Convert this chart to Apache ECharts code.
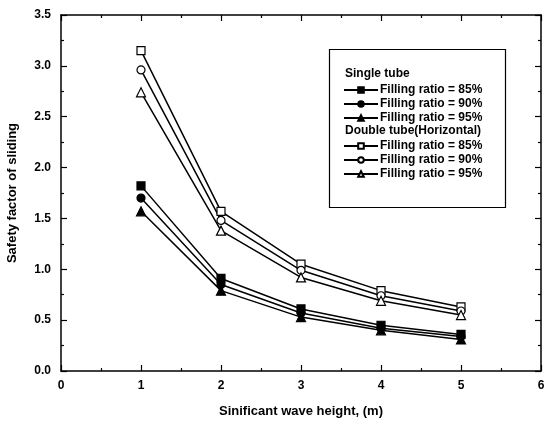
<!DOCTYPE html>
<html>
<head>
<meta charset="utf-8">
<script src="https://cdn.jsdelivr.net/npm/echarts@6/dist/echarts.min.js"></script>
<style>
  html, body { margin: 0; padding: 0; background: #fff; }
  #chart { width: 545px; height: 425px; }
</style>
</head>
<body>
<div id="chart"></div>
<script>
// Significant wave height (m)
const waveHeight = [1, 2, 3, 4, 5];

// Safety factor of sliding, single tube
const single85 = [1.82, 0.91, 0.61, 0.45, 0.36];
const single90 = [1.70, 0.85, 0.57, 0.42, 0.34];
const single95 = [1.57, 0.79, 0.53, 0.40, 0.31];

// Safety factor of sliding, double tube (horizontal)
const double85 = [3.15, 1.57, 1.05, 0.79, 0.63];
const double90 = [2.96, 1.48, 0.99, 0.74, 0.59];
const double95 = [2.74, 1.38, 0.92, 0.69, 0.55];

const legendLabels = ['Filling ratio = 85%', 'Filling ratio = 90%', 'Filling ratio = 95%'];

const FONT = '"Liberation Sans", Arial, sans-serif';

function pairs(ys) { return ys.map((y, i) => [waveHeight[i], y]); }

function makeSeries(name, ys, symbol, filled, size) {
  return {
    name: name,
    type: 'line',
    data: pairs(ys),
    symbol: symbol,
    symbolSize: size,
    lineStyle: { color: '#000', width: 1.5 },
    itemStyle: { color: filled ? '#000' : '#fff', borderColor: '#000', borderWidth: 1.2 },
    emphasis: { disabled: true },
    animation: false,
    z: 3
  };
}

// trailing spaces keep the two legend groups' names distinct
const singleNames = legendLabels.map(t => t + ' ');
const doubleNames = legendLabels.map(t => t + '  ');

const series = [
  makeSeries(singleNames[0], single85, 'rect', true, 8),
  makeSeries(singleNames[1], single90, 'circle', true, 8),
  makeSeries(singleNames[2], single95, 'triangle', true, 9),
  makeSeries(doubleNames[0], double85, 'rect', false, 8),
  makeSeries(doubleNames[1], double90, 'circle', false, 8),
  makeSeries(doubleNames[2], double95, 'triangle', false, 9)
];

const axisLine = { show: true, onZero: false, lineStyle: { color: '#000', width: 1.5 } };
const tickStyle = { color: '#000', width: 1.2 };

const legendBase = {
  orient: 'vertical',
  left: 343,
  itemWidth: 34,
  itemHeight: 7,
  itemGap: 2,
  textStyle: { fontFamily: FONT, fontWeight: 'bold', fontSize: 12, color: '#000', padding: [0, 0, 0, -3] },
  selectedMode: false,
  padding: 0
};

const chart = echarts.init(document.getElementById('chart'), null, { renderer: 'canvas' });
chart.setOption({
  backgroundColor: '#fff',
  animation: false,
  grid: { left: 61, right: 4, top: 15, bottom: 54, outerBoundsMode: 'none' },
  xAxis: [
    {
      type: 'value', min: 0, max: 6, interval: 1,
      axisLine: axisLine,
      axisTick: { inside: true, length: 6, lineStyle: tickStyle },
      minorTick: { show: true, splitNumber: 2, length: 3, lineStyle: tickStyle },
      splitLine: { show: false },
      axisLabel: { color: '#000', fontFamily: FONT, fontWeight: 'bold', fontSize: 12, margin: 9 },
      name: 'Sinificant wave height, (m)',
      nameLocation: 'middle',
      nameGap: 34,
      nameTextStyle: { color: '#000', fontFamily: FONT, fontWeight: 'bold', fontSize: 13 }
    },
    {
      type: 'value', min: 0, max: 6, interval: 1, position: 'top',
      axisLine: axisLine,
      axisTick: { inside: true, length: 6, lineStyle: tickStyle },
      minorTick: { show: true, splitNumber: 2, length: 3, lineStyle: tickStyle },
      splitLine: { show: false },
      axisLabel: { show: false }
    }
  ],
  yAxis: [
    {
      type: 'value', min: 0, max: 3.5, interval: 0.5,
      axisLine: axisLine,
      axisTick: { inside: true, length: 6, lineStyle: tickStyle },
      minorTick: { show: true, splitNumber: 2, length: 3, lineStyle: tickStyle },
      splitLine: { show: false },
      axisLabel: {
        color: '#000', fontFamily: FONT, fontWeight: 'bold', fontSize: 12, margin: 10,
        formatter: v => v.toFixed(1)
      },
      name: 'Safety factor of sliding',
      nameLocation: 'middle',
      nameGap: 42,
      nameTextStyle: { color: '#000', fontFamily: FONT, fontWeight: 'bold', fontSize: 13 }
    },
    {
      type: 'value', min: 0, max: 3.5, interval: 0.5, position: 'right',
      axisLine: axisLine,
      axisTick: { inside: true, length: 6, lineStyle: tickStyle },
      minorTick: { show: true, splitNumber: 2, length: 3, lineStyle: tickStyle },
      splitLine: { show: false },
      axisLabel: { show: false }
    }
  ],
  legend: [
    Object.assign({}, legendBase, { top: 84, data: singleNames }),
    Object.assign({}, legendBase, { top: 140, data: doubleNames })
  ],
  graphic: [
    {
      type: 'rect', left: 327, top: 47,
      shape: { width: 176, height: 158 },
      style: { fill: 'none', stroke: '#000', lineWidth: 1.2 },
      z: 10
    },
    {
      type: 'text', left: 345, top: 68,
      style: { text: 'Single tube', fill: '#000', font: 'bold 12px ' + FONT },
      z: 10
    },
    {
      type: 'text', left: 345, top: 125,
      style: { text: 'Double tube(Horizontal)', fill: '#000', font: 'bold 12px ' + FONT },
      z: 10
    }
  ],
  series: series
});
</script>
</body>
</html>
